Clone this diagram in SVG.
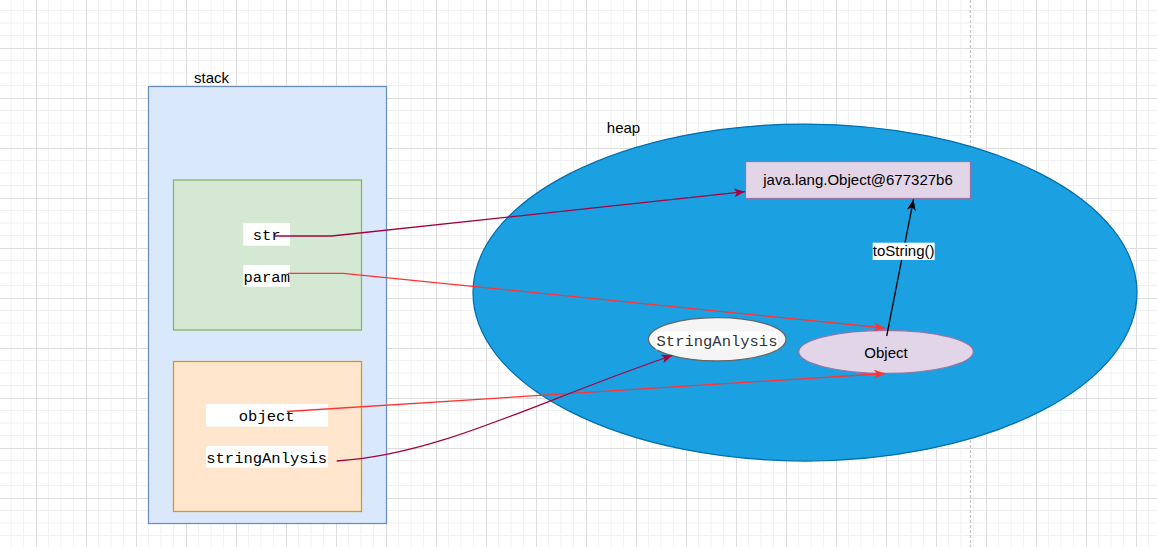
<svg xmlns="http://www.w3.org/2000/svg" width="1157" height="547" viewBox="0 0 1157 547">
  <style>
    .sans { font-family: "Liberation Sans", Arial, sans-serif; font-size: 15px; fill: #000; }
    .mono { font-family: "Liberation Mono", "Courier New", monospace; font-size: 15.5px; fill: #000; }
    .lblbg { fill: #ffffff; }
    .edge { fill: none; stroke-width: 1.3; }
    .dark { stroke: #a50040; }
    .red { stroke: #ff3333; }
    .blk { stroke: #000000; }
  </style>
  <defs>
    <pattern id="grid" patternUnits="userSpaceOnUse" x="36" y="48" width="50" height="50">
      <rect width="50" height="50" fill="#ffffff"/>
      <path d="M12.5,0 V50 M25,0 V50 M37.5,0 V50 M0,12.5 H50 M0,25 H50 M0,37.5 H50" stroke="#f1f1f1" stroke-width="1"/>
      <path d="M0.5,0 V50 M0,0.5 H50" stroke="#dddddd" stroke-width="1"/>
    </pattern>
    <marker id="ah-dark" viewBox="0 0 11 9" refX="11" refY="4.5" markerWidth="11" markerHeight="9" markerUnits="userSpaceOnUse" orient="auto">
      <path d="M0,0 L11,4.5 L0,9 L3,4.5 Z" fill="#a50040"/>
    </marker>
    <marker id="ah-red" viewBox="0 0 11 9" refX="11" refY="4.5" markerWidth="11" markerHeight="9" markerUnits="userSpaceOnUse" orient="auto">
      <path d="M0,0 L11,4.5 L0,9 L3,4.5 Z" fill="#ff3333"/>
    </marker>
    <marker id="ah-blk" viewBox="0 0 11 9" refX="11" refY="4.5" markerWidth="11" markerHeight="9" markerUnits="userSpaceOnUse" orient="auto">
      <path d="M0,0 L11,4.5 L0,9 L3,4.5 Z" fill="#000000"/>
    </marker>
  </defs>

  <g id="background">
    <rect x="0" y="0" width="1157" height="547" fill="url(#grid)"/>
    <line x1="970.5" y1="0" x2="970.5" y2="547" stroke="#c4c4c4" stroke-width="1.2" stroke-dasharray="3,2"/>
  </g>

  <g id="stack">
    <rect x="148.5" y="86.5" width="238" height="437" fill="#dae8fc" stroke="#6c8ebf" stroke-width="1.25"/>
    <text class="sans" x="211.5" y="82.5" text-anchor="middle">stack</text>
  </g>

  <g id="frame-main">
    <rect x="173.5" y="180" width="188" height="150" fill="#d5e8d4" stroke="#82b366" stroke-width="1.25"/>
  </g>

  <g id="frame-test">
    <rect x="173.5" y="361.5" width="188" height="150" fill="#ffe6cc" stroke="#d79b00" stroke-width="1.25"/>
  </g>

  <g id="var-str">
    <rect class="lblbg" x="243.3" y="223" width="46.7" height="22.7"/>
    <text class="mono" x="266.7" y="240" text-anchor="middle">str</text>
  </g>
  <g id="var-param">
    <rect class="lblbg" x="243.3" y="265" width="46.7" height="21.7"/>
    <text class="mono" x="266.7" y="281.5" text-anchor="middle">param</text>
  </g>
  <g id="var-object">
    <rect class="lblbg" x="206" y="404" width="122" height="22.7"/>
    <text class="mono" x="266.7" y="421" text-anchor="middle">object</text>
  </g>
  <g id="var-stringAnlysis">
    <rect class="lblbg" x="206" y="446" width="122" height="21.7"/>
    <text class="mono" x="266.7" y="462.5" text-anchor="middle">stringAnlysis</text>
  </g>

  <g id="heap">
    <ellipse cx="805" cy="292.5" rx="332" ry="168.5" fill="#1ba1e2" stroke="#006eaf" stroke-width="1.25"/>
    <text class="sans" x="623.5" y="132.5" text-anchor="middle">heap</text>
  </g>

  <g id="java-object-string">
    <rect x="745.5" y="161.5" width="225" height="37" fill="#e1d5e7" stroke="#9673a6" stroke-width="1.25"/>
    <text class="sans" x="858" y="185" text-anchor="middle">java.lang.Object@677327b6</text>
  </g>

  <g id="object-instance">
    <ellipse cx="886" cy="351.8" rx="87.3" ry="21.5" fill="#e1d5e7" stroke="#9673a6" stroke-width="1.25"/>
    <text class="sans" x="886" y="357.5" text-anchor="middle">Object</text>
  </g>

  <g id="stringanlysis-instance">
    <ellipse cx="717.2" cy="339.3" rx="68.8" ry="21.7" fill="#f5f5f5" stroke="#666666" stroke-width="1.25"/>
    <rect class="lblbg" x="655.7" y="331.5" width="122" height="18"/>
    <text class="mono" x="717" y="345.5" text-anchor="middle" style="fill:#333333">StringAnlysis</text>
  </g>

  <g id="connectors">
    <path class="edge dark" d="M275,236 L331.7,236 L745,191.7" marker-end="url(#ah-dark)"/>
    <path class="edge red" d="M288,273.3 L343.3,273.3 L885,328" marker-end="url(#ah-red)"/>
    <path class="edge red" d="M286.7,411.5 L885,373.5" marker-end="url(#ah-red)"/>
    <path class="edge dark" d="M336.7,461 C440,455 540,400 672.3,355.5" marker-end="url(#ah-dark)"/>
    <path class="edge blk" d="M886.7,336 L913.5,199.5" marker-end="url(#ah-blk)"/>
    <g id="label-toString">
      <rect class="lblbg" x="872.7" y="242.7" width="62" height="17.3"/>
      <text class="sans" x="903.7" y="256" text-anchor="middle">toString()</text>
    </g>
  </g>
</svg>
